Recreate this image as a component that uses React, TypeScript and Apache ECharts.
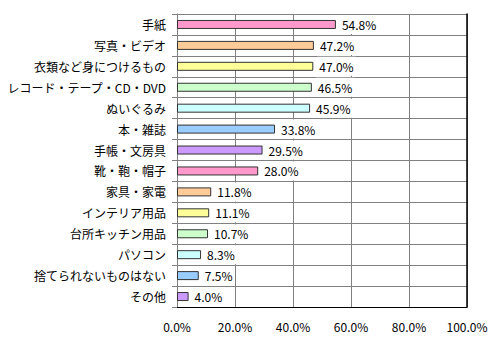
import React, { useEffect, useRef } from "react";
import * as echarts from "echarts";

const categories = [
  "手紙",
  "写真・ビデオ",
  "衣類など身につけるもの",
  "レコード・テープ・CD・DVD",
  "ぬいぐるみ",
  "本・雑誌",
  "手帳・文房具",
  "靴・鞄・帽子",
  "家具・家電",
  "インテリア用品",
  "台所キッチン用品",
  "パソコン",
  "捨てられないものはない",
  "その他",
];
const values = [54.8, 47.2, 47.0, 46.5, 45.9, 33.8, 29.5, 28.0, 11.8, 11.1, 10.7, 8.3, 7.5, 4.0];
const palette = ["#FF99CC", "#FFCC99", "#FFFF99", "#CCFFCC", "#CCFFFF", "#99CCFF", "#CC99FF"];

const FONT = "'Noto Sans CJK JP', sans-serif";

export default function App() {
  const ref = useRef<HTMLDivElement>(null);
  useEffect(() => {
    if (!ref.current) return;
    const chart = echarts.init(ref.current, undefined, { renderer: "svg" });
    chart.setOption({
      animation: false,
      backgroundColor: "#ffffff",
      grid: { left: 177, right: 34, top: 14, bottom: 36, containLabel: false },
      xAxis: {
        type: "value",
        min: 0,
        max: 100,
        interval: 20,
        axisLine: { show: true, lineStyle: { color: "#000", width: 1 } },
        axisTick: { show: false },
        splitLine: { show: true, lineStyle: { color: "#808080", width: 1 } },
        axisLabel: {
          color: "#000",
          fontFamily: FONT,
          fontSize: 12,
          margin: 13,
          formatter: (v: number) => v.toFixed(1) + "%",
        },
      },
      yAxis: [
        {
          type: "category",
          data: categories,
          inverse: true,
          axisLine: { show: true, lineStyle: { color: "#808080", width: 1 } },
          axisTick: { show: true, length: 5, lineStyle: { color: "#808080" } },
          splitLine: { show: true, lineStyle: { color: "#808080", width: 1 } },
          axisLabel: { color: "#000", fontFamily: FONT, fontSize: 12, margin: 11 },
        },
        {
          type: "category",
          data: categories,
          inverse: true,
          position: "right",
          axisLine: { show: true, lineStyle: { color: "#000", width: 1.5 } },
          axisTick: { show: false },
          axisLabel: { show: false },
          splitLine: { show: false },
        },
      ],
      series: [
        {
          type: "bar",
          yAxisIndex: 0,
          barWidth: 9,
          data: values.map((v, i) => ({
            value: v,
            itemStyle: { color: palette[i % palette.length] },
          })),
          itemStyle: { borderColor: "#333333", borderWidth: 1 },
          label: {
            show: true,
            position: "right",
            distance: 4,
            color: "#000",
            fontFamily: FONT,
            fontSize: 12,
            lineHeight: 13,
            backgroundColor: "#ffffff",
            padding: [3, 2, 3, 2],
            formatter: (p: any) => Number(p.value).toFixed(1) + "%",
          },
        },
      ],
    });
    return () => chart.dispose();
  }, []);
  return <div ref={ref} style={{ width: 501, height: 343, position: "absolute", left: 0, top: 0 }} />;
}
